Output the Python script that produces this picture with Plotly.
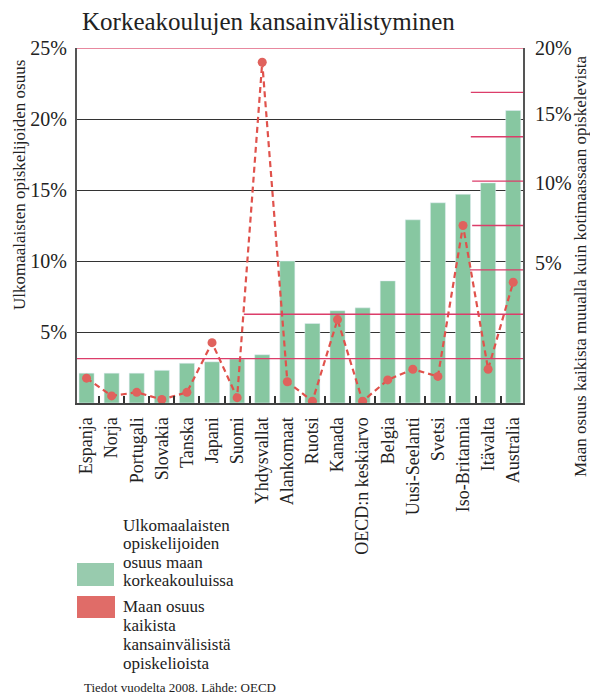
import plotly.graph_objects as go

categories = ["Espanja", "Norja", "Portugali", "Slovakia", "Tanska", "Japani", "Suomi",
              "Yhdysvallat", "Alankomaat", "Ruotsi", "Kanada", "OECD:n keskiarvo", "Belgia",
              "Uusi-Seelanti", "Svetsi", "Iso-Britannia", "Itävalta", "Australia"]
foreign_share = [2.1, 2.1, 2.1, 2.3, 2.8, 2.9, 3.1, 3.4, 10.0, 5.6, 6.5, 6.7, 8.6,
                 12.9, 14.1, 14.7, 15.5, 20.6]
world_share = [1.4, 0.4, 0.6, 0.2, 0.6, 3.4, 0.3, 19.2, 1.2, 0.1, 4.7, 0.1, 1.3,
               1.9, 1.5, 10.0, 1.9, 6.8]

left_tickvals = [5, 10, 15, 20, 25]
left_ticktext = ["5%", "10%", "15%", "20%", "25%"]
right_tickvals = [20, 16.3, 12.4, 7.9]
right_ticktext = ["20%", "15%", "10%", "5%"]

# pink reference lines on right scale: (level, start as paper x)
pink_levels = [2.5, 5, 7.5, 10, 12.5, 15, 17.5, 20]
pink_starts = [0.0, 0.374, 0.881, 0.886, 0.886, 0.883, 0.883, 0.0]

legend_green = ["Ulkomaalaisten", "opiskelijoiden", "osuus maan", "korkeakouluissa"]
legend_red = ["Maan osuus", "kaikista", "kansainvälisistä", "opiskelioista"]

FONT = "Liberation Serif"
W, H = 590, 695
L, R, T, B = 77, 67, 48, 292
PW = W - L - R
PH = H - T - B

def px_x(p):
    return (p - L) / PW

def px_y(p):
    return (H - B - p) / PH

fig = go.Figure()
fig.add_trace(go.Bar(x=categories, y=foreign_share, marker_color="#87c7a1",
                     width=0.6, yaxis="y", showlegend=False))
fig.add_trace(go.Scatter(x=categories, y=world_share, yaxis="y2", mode="lines+markers",
                         line=dict(color="#e0524c", width=2.2, dash="6px,4px"),
                         marker=dict(size=9, color="#e0625d"), showlegend=False))

shapes = []
for lv, st in zip(pink_levels, pink_starts):
    full = lv == 20
    shapes.append(dict(type="line", xref="paper", yref="y2", x0=st, x1=1, y0=lv, y1=lv,
                       line=dict(color="#e8889f" if full else "#dc3d6a", width=2 if full else 1.3),
                       layer="above"))
# legend boxes
shapes.append(dict(type="rect", xref="paper", yref="paper", x0=px_x(77), x1=px_x(114),
                   y0=px_y(586), y1=px_y(563), fillcolor="#98cbae", line=dict(width=0)))
shapes.append(dict(type="rect", xref="paper", yref="paper", x0=px_x(77), x1=px_x(115),
                   y0=px_y(618), y1=px_y(596), fillcolor="#e06c68", line=dict(width=0)))

annotations = []
annotations.append(dict(text="Korkeakoulujen kansainvälistyminen", xref="paper", yref="paper",
                        x=px_x(80), y=px_y(21), xanchor="left", yanchor="middle", showarrow=False,
                        font=dict(family=FONT, size=25, color="#222")))
annotations.append(dict(text="Ulkomaalaisten opiskelijoiden osuus", xref="paper", yref="paper",
                        x=px_x(19), y=px_y(185), xanchor="center", yanchor="middle",
                        textangle=-90, showarrow=False, font=dict(family=FONT, size=17, color="#222")))
annotations.append(dict(text="Maan osuus kaikista muualla kuin kotimaassaan opiskelevista",
                        xref="paper", yref="paper", x=px_x(580), y=px_y(266), xanchor="center",
                        yanchor="middle", textangle=-90, showarrow=False,
                        font=dict(family=FONT, size=17, color="#222")))
for i, t in enumerate(legend_green):
    annotations.append(dict(text=t, xref="paper", yref="paper", x=px_x(121), y=px_y(525 + i * 18.5),
                            xanchor="left", yanchor="middle", showarrow=False,
                            font=dict(family=FONT, size=17, color="#222")))
for i, t in enumerate(legend_red):
    annotations.append(dict(text=t, xref="paper", yref="paper", x=px_x(121), y=px_y(606 + i * 19),
                            xanchor="left", yanchor="middle", showarrow=False,
                            font=dict(family=FONT, size=17, color="#222")))
annotations.append(dict(text="Tiedot vuodelta 2008. Lähde: OECD", xref="paper", yref="paper",
                        x=px_x(82), y=px_y(687), xanchor="left", yanchor="middle", showarrow=False,
                        font=dict(family=FONT, size=13, color="#222")))

fig.update_layout(
    width=W, height=H, margin=dict(l=L, r=R, t=T, b=B, pad=0),
    paper_bgcolor="white", plot_bgcolor="white",
    font=dict(family=FONT, color="#222"),
    bargap=0.4,
    xaxis=dict(type="category", range=[-0.38, 17.39], tickson="boundaries", ticks="inside",
               ticklen=7, tickwidth=1.5, tickcolor="#333", showline=True, linecolor="#444",
               linewidth=2, showgrid=False, tickangle=-90, ticklabelstandoff=5,
               tickfont=dict(family=FONT, size=18, color="#222"), fixedrange=True),
    yaxis=dict(range=[0, 25], tickvals=left_tickvals, ticktext=left_ticktext, showgrid=True,
               gridcolor="#333", gridwidth=1.2, zeroline=False, showline=True, linecolor="#555",
               linewidth=2, ticks="", ticklabelstandoff=4,
               tickfont=dict(family=FONT, size=20, color="#222")),
    yaxis2=dict(range=[0, 20], overlaying="y", side="right", tickvals=right_tickvals,
                ticktext=right_ticktext, showgrid=False, zeroline=False, showline=True,
                linecolor="#555", linewidth=2, ticks="", ticklabelstandoff=6,
                tickfont=dict(family=FONT, size=20, color="#222")),
    shapes=shapes, annotations=annotations,
)

fig.write_html("out.html", config={"displayModeBar": False},
               post_script="document.body.style.margin='0';document.body.style.overflow='hidden';")
